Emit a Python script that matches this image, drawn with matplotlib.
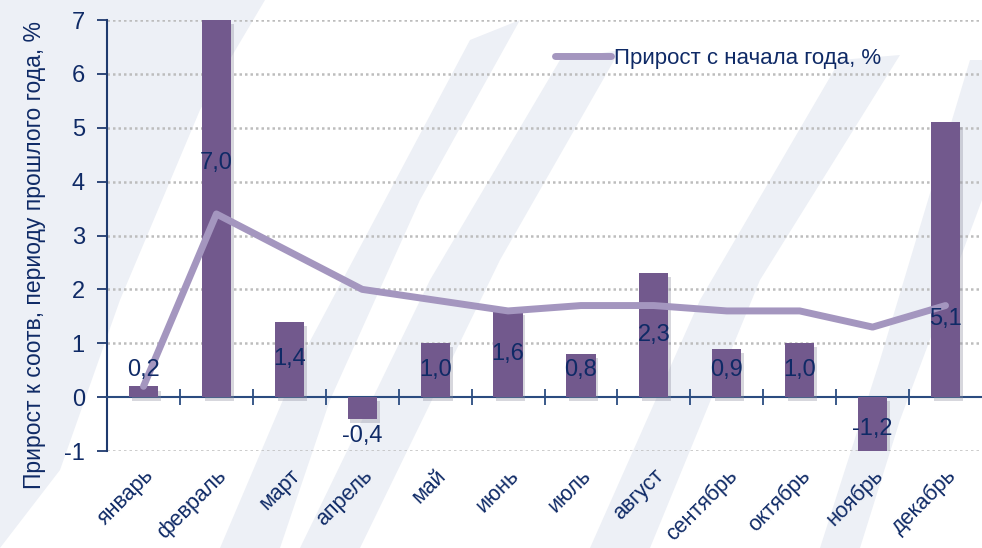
import matplotlib.pyplot as plt
import matplotlib.patheffects as pe
from matplotlib.patches import Polygon
import matplotlib.transforms as mtransforms
import numpy as np

plt.rcParams['font.family'] = ['Liberation Sans', 'DejaVu Sans']
plt.rcParams['axes.unicode_minus'] = False

months = ['январь', 'февраль', 'март', 'апрель', 'май', 'июнь',
          'июль', 'август', 'сентябрь', 'октябрь', 'ноябрь', 'декабрь']
monthly = [0.2, 7.0, 1.4, -0.4, 1.0, 1.6, 0.8, 2.3, 0.9, 1.0, -1.2, 5.1]
ytd = [0.2, 3.4, 2.7, 2.0, 1.8, 1.6, 1.7, 1.7, 1.6, 1.6, 1.3, 1.7]
line_label = 'Прирост с начала года, %'
ylabel = 'Прирост к соотв, периоду прошлого года, %'

navy = '#0F2A66'
bar_c = '#72598D'
line_c = '#A496BF'
wm = '#EDF0F6'

fig = plt.figure(figsize=(9.82, 5.48), dpi=100)

# faint background watermark (pixel coords, y from top)
shapes = [
    [(0, 0), (265, 0), (200, 110), (120, 300), (60, 470), (0, 548)],
    [(470, 40), (520, 20), (420, 200), (330, 400), (280, 548), (220, 548), (300, 360)],
    [(560, 60), (620, 50), (500, 260), (360, 548), (300, 548), (430, 280)],
    [(840, 60), (900, 55), (760, 280), (650, 548), (590, 548), (700, 300)],
    [(970, 60), (982, 60), (982, 200), (900, 420), (860, 548), (820, 548), (880, 360)],
]
for s in shapes:
    pts = [(px / 982, 1 - py / 548) for px, py in s]
    fig.patches.append(Polygon(pts, closed=True, transform=fig.transFigure,
                               facecolor=wm, edgecolor='none', zorder=-10))

ax = fig.add_axes([0.109, 0.177, 0.891, 0.7865])
ax.set_facecolor('none')
x = np.arange(len(months))

ax.set_xlim(-0.5, len(months) - 0.5)
ax.set_ylim(-1, 7)

for yv in range(-1, 8):
    if yv != 0:
        ax.axhline(yv, color='#BDBDBD', lw=1.8, ls=(0, (1, 1.2)), zorder=1)

bars = ax.bar(x, monthly, width=0.4, color=bar_c, zorder=3)
for b in bars:
    b.set_path_effects([pe.SimplePatchShadow(offset=(2, -3), shadow_rgbFace='#8E8E9E', alpha=0.35),
                        pe.Normal()])

ax.plot(x, ytd, color=line_c, lw=5, solid_capstyle='round', zorder=4, label=line_label)

# data labels
for i, v in enumerate(monthly):
    if v >= 0:
        yl = max(v / 2, 0.5)
    else:
        yl = v / 2 if v < -1 else v - 0.32
    if i == 1:
        yl = 4.35
    if i == 11:
        yl = 1.45
    ax.text(i, yl, f'{v:.1f}'.replace('.', ','), ha='center', va='center',
            fontsize=17, color=navy, zorder=5)

# axes styling
for s in ['top', 'right']:
    ax.spines[s].set_visible(False)
ax.spines['bottom'].set_position(('data', 0))
ax.spines['bottom'].set_color('#2B4C80')
ax.spines['bottom'].set_linewidth(1.5)
ax.spines['left'].set_color('#1F3A6E')
ax.spines['left'].set_linewidth(1.5)

ax.set_xticks(np.arange(0.5, len(months) - 0.5, 1))
ax.set_xticklabels([])
ax.tick_params(axis='x', direction='inout', length=11, width=1.3, color='#2B4C80')
ax.set_yticks(range(-1, 8))
ax.tick_params(axis='y', direction='out', length=7, width=1.3, color='#1F3A6E',
               labelsize=17, labelcolor=navy, pad=9)

trans = mtransforms.blended_transform_factory(ax.transData, ax.transAxes)
for i, m in enumerate(months):
    ax.text(i + 0.1, -0.05, m, transform=trans, rotation=45, rotation_mode='anchor',
            ha='right', va='center', fontsize=15.5, color=navy)

ax.set_ylabel(ylabel, fontsize=16.5, color=navy)
ax.yaxis.set_label_coords(-0.07, 0.455)

leg = ax.legend(loc='upper left', bbox_to_anchor=(0.512, 0.935), frameon=False,
                fontsize=16, handlelength=2.5, handletextpad=0.15, labelcolor=navy,
                borderpad=0, borderaxespad=0)

fig.savefig('out.png', dpi=100)
